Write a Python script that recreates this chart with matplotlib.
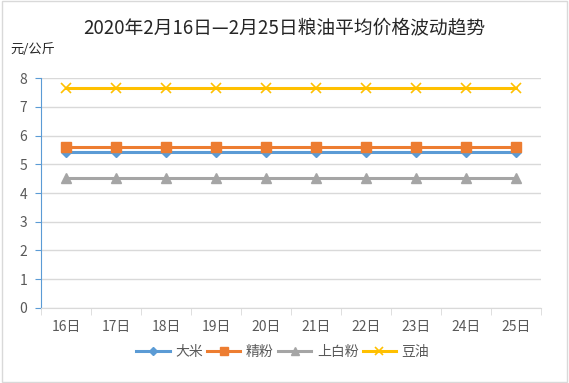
import matplotlib.pyplot as plt
from matplotlib.patches import Rectangle

plt.rcParams['font.family'] = ['Noto Sans CJK SC', 'DejaVu Sans']

days = ['16日', '17日', '18日', '19日', '20日', '21日', '22日', '23日', '24日', '25日']
rice = [5.43] * 10
flour = [5.6] * 10
white_flour = [4.52] * 10
soy_oil = [7.65] * 10

series = [
    ('大米', rice, '#5B9BD5', 'D', 5),
    ('精粉', flour, '#ED7D31', 's', 7),
    ('上白粉', white_flour, '#A5A5A5', '^', 7),
    ('豆油', soy_oil, '#FFC000', 'x', 7),
]

fig = plt.figure(figsize=(5.69, 3.83), dpi=100)
fig.patches.append(Rectangle((0.003, 0.003), 0.994, 0.994, transform=fig.transFigure,
                             fill=False, edgecolor='#D9D9D9', linewidth=1))
ax = fig.add_axes([0.072, 0.196, 0.879, 0.6])

x = list(range(len(days)))
for name, vals, color, marker, ms in series:
    ax.plot(x, vals, color=color, linewidth=2.2, marker=marker, markersize=ms,
            markeredgecolor=color, markerfacecolor=color, label=name,
            markeredgewidth=1.2 if marker == 'x' else 1)

ax.set_xlim(-0.5, len(days) - 0.5)
ax.set_ylim(0, 8)
ax.set_yticks(range(0, 9))
ax.set_xticks(x)
ax.set_xticklabels(days)
ax.set_xticks([i + 0.5 for i in range(-1, len(days))], minor=True)
ax.tick_params(axis='x', which='major', length=0, pad=9, labelsize=10, colors='#595959')
ax.tick_params(axis='x', which='minor', length=5, color='#D9D9D9')
ax.tick_params(axis='y', length=4, color='#5B9BD5', labelsize=10, colors='#595959', pad=6)
for lbl in ax.get_yticklabels():
    lbl.set_color('#595959')
ax.grid(axis='y', color='#D9D9D9', linewidth=1)
ax.set_axisbelow(True)
for s in ['top', 'right']:
    ax.spines[s].set_visible(False)
ax.spines['left'].set_color('#5B9BD5')
ax.spines['bottom'].set_color('#D9D9D9')

fig.text(0.5, 0.925, '2020年2月16日—2月25日粮油平均价格波动趋势', ha='center', va='center',
         fontsize=13.5, color='#262626')
fig.text(0.018, 0.87, '元/公斤', ha='left', va='center', fontsize=9.5, color='#262626')

fig.legend(loc='center', bbox_to_anchor=(0.497, 0.08), ncol=4, frameon=False, fontsize=10,
           handlelength=2.4, columnspacing=0.3, handletextpad=0.4, labelcolor='#595959',
           markerscale=0.9)

fig.savefig('out.png', dpi=100)
